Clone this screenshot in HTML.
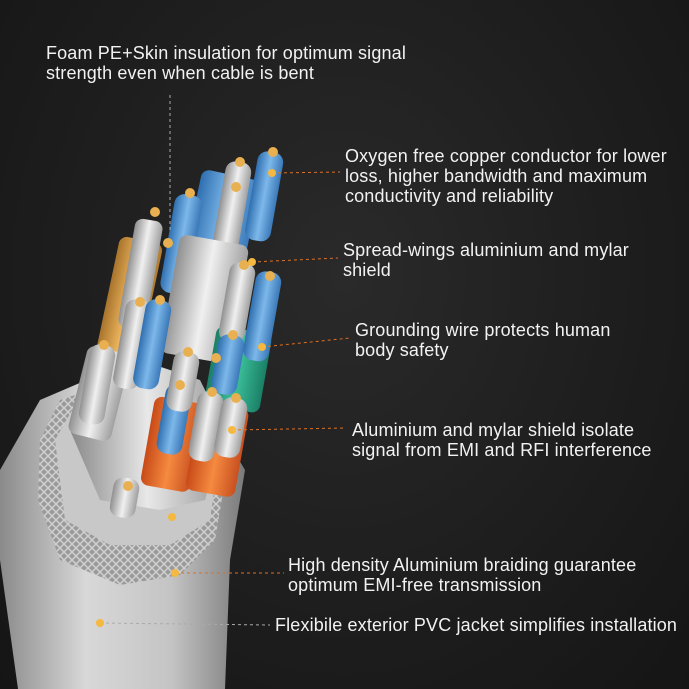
<!DOCTYPE html>
<html><head><meta charset="utf-8"><style>
html,body{margin:0;padding:0;background:#1c1c1c;}
.wrap{position:relative;width:689px;height:689px;overflow:hidden;background:radial-gradient(ellipse at 50% 40%,#2a2a2a 0%,#1d1d1d 60%,#151515 100%);}
.t{position:absolute;color:#f2f2f2;font-family:"Liberation Sans",sans-serif;font-size:18px;letter-spacing:0.15px;line-height:20px;white-space:nowrap;}
svg{position:absolute;left:0;top:0;}
</style></head><body><div class="wrap">
<svg width="689" height="689" viewBox="0 0 689 689">
<defs>
<linearGradient id="jk" x1="0" x2="1" y1="0" y2="0"><stop offset="0" stop-color="#8a8a8a"/><stop offset=".35" stop-color="#d8d8d8"/><stop offset=".7" stop-color="#c4c4c4"/><stop offset="1" stop-color="#7a7a7a"/></linearGradient>
<linearGradient id="sv" x1="0" x2="1"><stop offset="0" stop-color="#888"/><stop offset=".5" stop-color="#e8e8e8"/><stop offset="1" stop-color="#999"/></linearGradient>
<linearGradient id="bl" x1="0" x2="1"><stop offset="0" stop-color="#2f6fb0"/><stop offset=".5" stop-color="#7db8ea"/><stop offset="1" stop-color="#3a78b8"/></linearGradient>
<linearGradient id="wh" x1="0" x2="1"><stop offset="0" stop-color="#909090"/><stop offset=".5" stop-color="#f0f0f0"/><stop offset="1" stop-color="#a0a0a0"/></linearGradient>
<linearGradient id="or" x1="0" x2="1"><stop offset="0" stop-color="#c84a18"/><stop offset=".5" stop-color="#f58a40"/><stop offset="1" stop-color="#c85020"/></linearGradient>
<linearGradient id="gr" x1="0" x2="1"><stop offset="0" stop-color="#1a7f66"/><stop offset=".5" stop-color="#3cc09a"/><stop offset="1" stop-color="#1a7f66"/></linearGradient>
<linearGradient id="go" x1="0" x2="1"><stop offset="0" stop-color="#a8742c"/><stop offset=".5" stop-color="#f0b860"/><stop offset="1" stop-color="#b07a30"/></linearGradient>
<pattern id="br" width="8" height="8" patternUnits="userSpaceOnUse"><rect width="8" height="8" fill="#9a9a9a"/><path d="M0 8L8 0M0 0L8 8" stroke="#d0d0d0" stroke-width="1.5"/></pattern>
</defs>
<path d="M18 689 L0 560 L0 470 L40 400 L110 370 L200 395 L245 470 L230 560 L225 689 Z" fill="url(#jk)"/>
<path d="M40 440 L60 400 L120 380 L190 400 L230 450 L215 540 L180 575 L120 585 L60 560 L38 500 Z" fill="url(#br)"/>
<path d="M55 440 L75 405 L125 390 L185 405 L220 450 L210 520 L170 545 L110 545 L65 520 Z" fill="#c8c8c8"/>
<path d="M70 430 L90 380 L140 360 L200 380 L225 430 L205 500 L160 510 L100 500 Z" fill="url(#sv)"/>
<g>
<rect x="-22" y="0" width="44" height="120" rx="8" fill="url(#go)" transform="translate(142,240) rotate(12)"/>
<rect x="-14" y="0" width="28" height="110" rx="8" fill="url(#wh)" transform="translate(150,220) rotate(10)"/>
<rect x="-30" y="0" width="60" height="90" rx="8" fill="url(#bl)" transform="translate(232,175) rotate(12)"/>
<rect x="-14" y="0" width="28" height="100" rx="10" fill="url(#bl)" transform="translate(190,195) rotate(10)"/>
<rect x="-13" y="0" width="26" height="90" rx="10" fill="url(#wh)" transform="translate(240,162) rotate(10)"/>
<rect x="-13" y="0" width="26" height="90" rx="10" fill="url(#bl)" transform="translate(272,152) rotate(10)"/>
<rect x="-35" y="0" width="70" height="120" rx="8" fill="url(#wh)" transform="translate(215,240) rotate(10)"/>
<rect x="-28" y="0" width="56" height="80" rx="8" fill="url(#gr)" transform="translate(245,330) rotate(10)"/>
<rect x="-13" y="0" width="26" height="90" rx="10" fill="url(#bl)" transform="translate(270,272) rotate(10)"/>
<rect x="-13" y="0" width="26" height="80" rx="10" fill="url(#wh)" transform="translate(244,263) rotate(10)"/>
<rect x="-22" y="0" width="44" height="90" rx="8" fill="url(#wh)" transform="translate(110,350) rotate(14)"/>
<rect x="-13" y="0" width="26" height="90" rx="10" fill="url(#wh)" transform="translate(140,300) rotate(10)"/>
<rect x="-13" y="0" width="26" height="90" rx="10" fill="url(#bl)" transform="translate(160,300) rotate(10)"/>
<rect x="-13" y="0" width="26" height="80" rx="10" fill="url(#wh)" transform="translate(104,345) rotate(10)"/>
<rect x="-25" y="0" width="50" height="90" rx="8" fill="url(#or)" transform="translate(180,400) rotate(10)"/>
<rect x="-25" y="0" width="50" height="90" rx="8" fill="url(#or)" transform="translate(225,405) rotate(10)"/>
<rect x="-13" y="0" width="26" height="70" rx="10" fill="url(#bl)" transform="translate(180,385) rotate(10)"/>
<rect x="-13" y="0" width="26" height="70" rx="10" fill="url(#wh)" transform="translate(212,392) rotate(10)"/>
<rect x="-13" y="0" width="26" height="60" rx="10" fill="url(#wh)" transform="translate(236,398) rotate(10)"/>
<rect x="-13" y="0" width="26" height="60" rx="10" fill="url(#wh)" transform="translate(188,352) rotate(10)"/>
<rect x="-13" y="0" width="26" height="60" rx="10" fill="url(#bl)" transform="translate(233,335) rotate(10)"/>
<rect x="-13" y="0" width="26" height="40" rx="10" fill="url(#wh)" transform="translate(128,478) rotate(10)"/>
</g>
<g fill="#e8b050">
<circle cx="155" cy="212" r="5"/><circle cx="168" cy="243" r="5"/><circle cx="190" cy="193" r="5"/><circle cx="240" cy="162" r="5"/><circle cx="273" cy="152" r="5"/><circle cx="236" cy="187" r="5"/><circle cx="270" cy="276" r="5"/><circle cx="244" cy="265" r="5"/><circle cx="140" cy="302" r="5"/><circle cx="160" cy="300" r="5"/><circle cx="104" cy="345" r="5"/><circle cx="188" cy="352" r="5"/><circle cx="216" cy="358" r="5"/><circle cx="233" cy="335" r="5"/><circle cx="180" cy="385" r="5"/><circle cx="212" cy="392" r="5"/><circle cx="236" cy="398" r="5"/><circle cx="128" cy="486" r="5"/>
</g>
<g fill="none" stroke-width="1" stroke-dasharray="3,3">
<path d="M170 95 L170 230" stroke="#aaa"/>
<path d="M272 173 L340 172" stroke="#e07020"/>
<path d="M252 262 L338 258" stroke="#e07020"/>
<path d="M262 347 L350 338" stroke="#e07020"/>
<path d="M232 430 L346 428" stroke="#e07020"/>
<path d="M175 573 L284 573" stroke="#e07020"/>
<path d="M100 623 L270 625" stroke="#aaa"/>
</g>
<g fill="#f5b840">
<circle cx="272" cy="173" r="4"/><circle cx="252" cy="262" r="4"/><circle cx="262" cy="347" r="4"/><circle cx="232" cy="430" r="4"/><circle cx="172" cy="517" r="4"/><circle cx="175" cy="573" r="4"/><circle cx="100" cy="623" r="4"/>
</g>
</svg>
<div class="t" style="left:46px;top:43px">Foam PE+Skin insulation for optimum signal<br>strength even when cable is bent</div>
<div class="t" style="left:345px;top:146px">Oxygen free copper conductor for lower<br>loss, higher bandwidth and maximum<br>conductivity and reliability</div>
<div class="t" style="left:343px;top:240px">Spread-wings aluminium and mylar<br>shield</div>
<div class="t" style="left:355px;top:320px">Grounding wire protects human<br>body safety</div>
<div class="t" style="left:352px;top:420px">Aluminium and mylar shield isolate<br>signal from EMI and RFI interference</div>
<div class="t" style="left:288px;top:555px">High density Aluminium braiding guarantee<br>optimum EMI-free transmission</div>
<div class="t" style="left:275px;top:615px">Flexibile exterior PVC jacket simplifies installation</div>
</div></body></html>
